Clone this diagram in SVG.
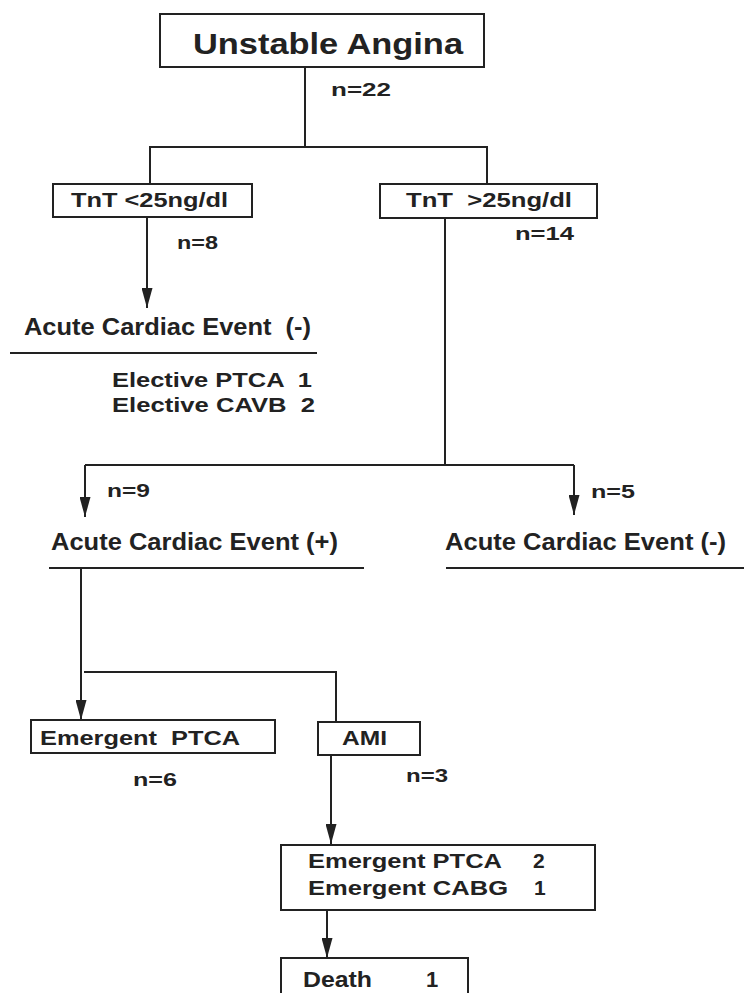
<svg xmlns="http://www.w3.org/2000/svg" width="744" height="993" viewBox="0 0 744 993">
<defs>
<style>
.t{font-family:"Liberation Sans",Arial,sans-serif;font-weight:bold;fill:#222;}
.n{font-size:19px;}
.box{fill:#fff;stroke:#222;stroke-width:2;}
.ln{fill:none;stroke:#222;stroke-width:2;}
.ar{fill:none;stroke:#222;stroke-width:2;marker-end:url(#ah);}
</style>
<marker id="ah" markerUnits="userSpaceOnUse" markerWidth="20" markerHeight="11" refX="20" refY="5.5" orient="auto">
<path d="M0,0 L20,5.5 L0,11 z" fill="#222"/>
</marker>
</defs>
<rect width="744" height="993" fill="#fff"/>
<g id="connectors">
<line class="ln" x1="305" y1="67" x2="305" y2="147"/>
<polyline class="ln" points="150,184 150,147 487,147 487,184"/>
<line class="ar" x1="147" y1="218" x2="147" y2="308"/>
<line class="ln" x1="445" y1="218" x2="445" y2="465"/>
<line class="ln" x1="85" y1="465" x2="574" y2="465"/>
<line class="ar" x1="85" y1="465" x2="85" y2="517"/>
<line class="ar" x1="574" y1="465" x2="574" y2="515"/>
<line class="ln" x1="10" y1="353" x2="317" y2="353"/>
<line class="ln" x1="49" y1="568" x2="364" y2="568"/>
<line class="ln" x1="446" y1="568" x2="744" y2="568"/>
<line class="ar" x1="81" y1="568" x2="81" y2="720"/>
<polyline class="ln" points="84,672 336,672 336,722"/>
<line class="ar" x1="331" y1="755" x2="331" y2="844"/>
<line class="ar" x1="327" y1="911" x2="327" y2="958"/>
</g>
<g id="unstable-angina">
<rect class="box" x="160" y="14" width="324" height="53"/>
<text class="t" x="193" y="54" font-size="30" textLength="270" lengthAdjust="spacingAndGlyphs">Unstable Angina</text>
</g>
<g id="n22"><text class="t n" x="331" y="96" textLength="60" lengthAdjust="spacingAndGlyphs">n=22</text></g>
<g id="tnt-low">
<rect class="box" x="53" y="184" width="199" height="33"/>
<text class="t" x="71" y="207" font-size="21" textLength="157" lengthAdjust="spacingAndGlyphs">TnT &lt;25ng/dl</text>
</g>
<g id="tnt-high">
<rect class="box" x="380" y="184" width="217" height="34"/>
<text class="t" x="406" y="207" font-size="21" textLength="166" lengthAdjust="spacingAndGlyphs" xml:space="preserve">TnT  &gt;25ng/dl</text>
</g>
<g id="n8"><text class="t n" x="177" y="249" textLength="41" lengthAdjust="spacingAndGlyphs">n=8</text></g>
<g id="n14"><text class="t n" x="515" y="240" textLength="59" lengthAdjust="spacingAndGlyphs">n=14</text></g>
<g id="ace-neg-left">
<text class="t" x="24" y="335" font-size="23" textLength="287" lengthAdjust="spacingAndGlyphs" xml:space="preserve">Acute Cardiac Event  (-)</text>
<text class="t" x="112" y="387" font-size="20" textLength="200" lengthAdjust="spacingAndGlyphs" xml:space="preserve">Elective PTCA  1</text>
<text class="t" x="112" y="412" font-size="20" textLength="203" lengthAdjust="spacingAndGlyphs" xml:space="preserve">Elective CAVB  2</text>
</g>
<g id="n9"><text class="t n" x="107" y="497" textLength="43" lengthAdjust="spacingAndGlyphs">n=9</text></g>
<g id="n5"><text class="t n" x="591" y="498" textLength="44" lengthAdjust="spacingAndGlyphs">n=5</text></g>
<g id="ace-pos">
<text class="t" x="51" y="550" font-size="23" textLength="287" lengthAdjust="spacingAndGlyphs">Acute Cardiac Event (+)</text>
</g>
<g id="ace-neg-right">
<text class="t" x="445" y="550" font-size="23" textLength="281" lengthAdjust="spacingAndGlyphs">Acute Cardiac Event (-)</text>
</g>
<g id="emergent-ptca">
<rect class="box" x="31" y="720" width="244" height="33"/>
<text class="t" x="40" y="745" font-size="21" textLength="200" lengthAdjust="spacingAndGlyphs" xml:space="preserve">Emergent  PTCA</text>
</g>
<g id="ami">
<rect class="box" x="318" y="722" width="102" height="33"/>
<text class="t" x="342" y="745" font-size="21" textLength="45" lengthAdjust="spacingAndGlyphs">AMI</text>
</g>
<g id="n6"><text class="t n" x="133" y="786" textLength="44" lengthAdjust="spacingAndGlyphs">n=6</text></g>
<g id="n3"><text class="t n" x="406" y="782" textLength="42" lengthAdjust="spacingAndGlyphs">n=3</text></g>
<g id="emergent-procedures">
<rect class="box" x="281" y="845" width="314" height="65"/>
<text class="t" x="308" y="868" font-size="21" textLength="194" lengthAdjust="spacingAndGlyphs">Emergent PTCA</text>
<text class="t" x="533" y="868" font-size="21">2</text>
<text class="t" x="308" y="895" font-size="21" textLength="200" lengthAdjust="spacingAndGlyphs">Emergent CABG</text>
<text class="t" x="534" y="895" font-size="21">1</text>
</g>
<g id="death">
<rect class="box" x="281" y="958" width="187" height="40"/>
<text class="t" x="303" y="987" font-size="22" textLength="69" lengthAdjust="spacingAndGlyphs">Death</text>
<text class="t" x="426" y="987" font-size="22">1</text>
</g>
</svg>
